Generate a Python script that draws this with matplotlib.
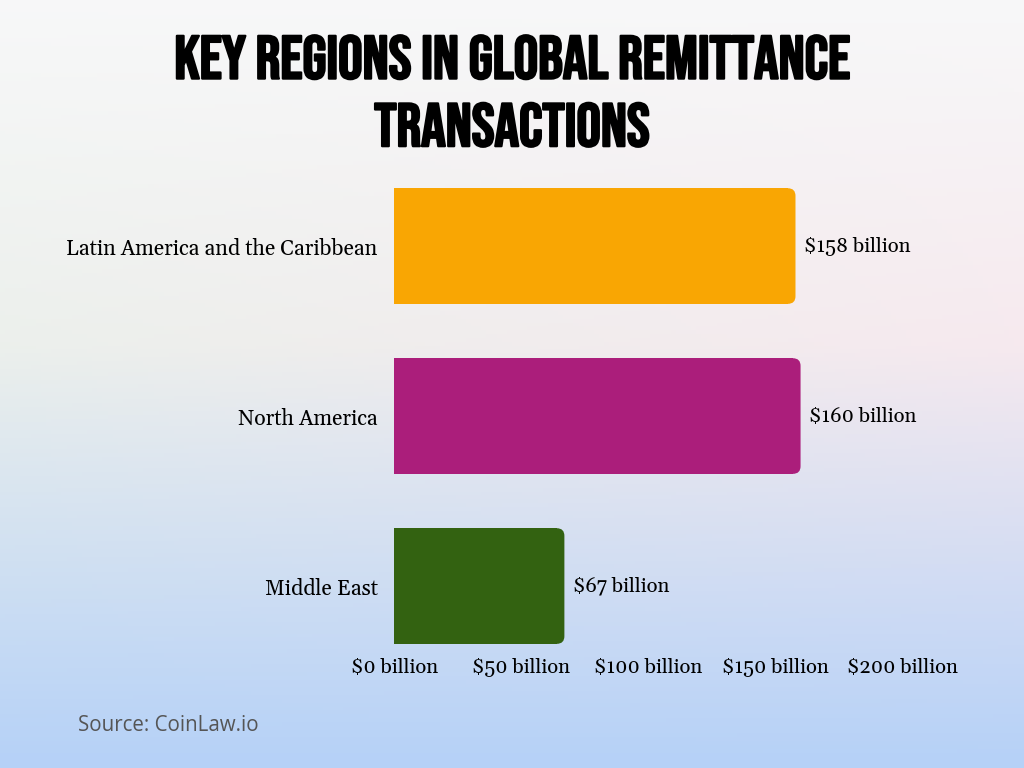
import numpy as np
import matplotlib.pyplot as plt
import matplotlib.patheffects as pe
from matplotlib.patches import FancyBboxPatch

regions = ["Latin America and the Caribbean", "North America", "Middle East"]
values = [158, 160, 67]
value_labels = ["$158 billion", "$160 billion", "$67 billion"]
bar_colors = ["#F9A603", "#AB1E7B", "#336211"]
xticks = [0, 50, 100, 150, 200]
xtick_labels = ["$0 billion", "$50 billion", "$100 billion", "$150 billion", "$200 billion"]

fig = plt.figure(figsize=(10.24, 7.68), dpi=100)

# background gradient
bg = fig.add_axes([0, 0, 1, 1], zorder=-10)
ny, nx = 200, 200
yy, xx = np.mgrid[0:1:ny * 1j, 0:1:nx * 1j]
top = np.array([0.97, 0.972, 0.975])
mid_l = np.array([0.925, 0.940, 0.925])
mid_r = np.array([0.965, 0.915, 0.935])
bot = np.array([0.71, 0.82, 0.97])
img = np.zeros((ny, nx, 3))
for c in range(3):
    mid = mid_l[c] * (1 - xx) + mid_r[c] * xx
    upper = top[c] * (1 - yy / 0.45) + mid * (yy / 0.45)
    lower = mid * (1 - (yy - 0.45) / 0.55) + bot[c] * ((yy - 0.45) / 0.55)
    img[:, :, c] = np.where(yy < 0.45, upper, lower)
bg.imshow(np.clip(img, 0, 1), aspect="auto", extent=[0, 1, 0, 1], origin="upper")
bg.axis("off")

ax = fig.add_axes([0.385, 0.1484, 0.496, 0.6419])
ax.patch.set_alpha(0)
y = np.arange(len(regions))
h = 0.68
r = 3  # corner radius in x units
ax.barh(y, [v - r for v in values], height=h, color=bar_colors)
for yi, v, col in zip(y, values, bar_colors):
    ax.add_patch(FancyBboxPatch((0, yi - h / 2), v, h,
                                boxstyle=f"round,pad=0,rounding_size={r}",
                                mutation_aspect=0.0149, fc=col, ec="none"))
ax.set_xlim(0, 200)
ax.set_ylim(2.4, -0.5)
ax.set_yticks(y)
ax.set_yticklabels(regions, family="Gelasio", fontsize=15.3)
ax.set_xticks(xticks)
ax.set_xticklabels(xtick_labels, family="Gelasio", fontsize=14.6)
ax.tick_params(length=0, axis="y", pad=12)
ax.tick_params(length=0, axis="x", pad=3)
for s in ax.spines.values():
    s.set_visible(False)

for yi, v, lab in zip(y, values, value_labels):
    ax.annotate(lab, (v, yi), xytext=(6, 0), textcoords="offset points",
                va="center", ha="left", family="Gelasio", fontsize=14.6)

thick = [pe.withStroke(linewidth=1.6, foreground="black")]
fig.text(0.5, 0.925, "Key Regions in Global Remittance", ha="center", va="center",
         fontsize=44, family="Bebas Neue", path_effects=thick)
fig.text(0.5, 0.837, "Transactions", ha="center", va="center",
         fontsize=44, family="Bebas Neue", path_effects=thick)
fig.text(0.076, 0.055, "Source: CoinLaw.io", ha="left", va="center",
         fontsize=14.8, color="#555555", family="Open Sans")

fig.savefig("out.png", dpi=100)
